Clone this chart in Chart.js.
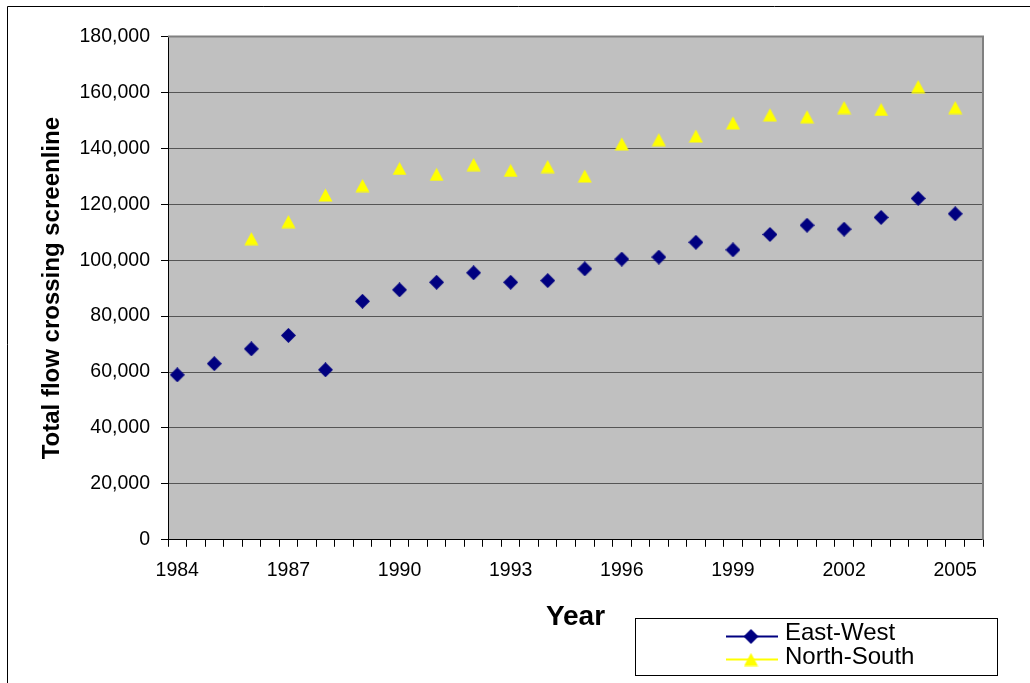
<!DOCTYPE html>
<html>
<head>
<meta charset="utf-8">
<title>Total flow crossing screenline</title>
<script src="https://cdn.jsdelivr.net/npm/chart.js@4/dist/chart.umd.min.js"></script>
<style>
  html, body { margin: 0; padding: 0; background: #ffffff; }
  #wrap { width: 1030px; height: 683px; }
</style>
</head>
<body>
<div id="wrap"><canvas id="flow" width="1030" height="683"></canvas></div>
<script>
// Survey years
const years = [1984, 1985, 1986, 1987, 1988, 1989, 1990, 1991, 1992, 1993, 1994,
               1995, 1996, 1997, 1998, 1999, 2000, 2001, 2002, 2003, 2004, 2005];

// Total flow crossing the screenline, per direction
const eastWest = [59000, 63000, 68300, 73100, 60800, 85300, 89400, 92100, 95500, 92100, 92700,
                  96900, 100400, 101100, 106400, 103700, 109200, 112500, 111100, 115300, 122100, 116600];
const northSouth = [null, null, 107700, 113800, 123300, 126700, 132800, 130700, 134200, 132100, 133500,
                    130100, 141600, 143100, 144400, 149100, 152000, 151300, 154600, 153900, 162100, 154600];

// Axis labelling
const yearLabels = [1984, 1987, 1990, 1993, 1996, 1999, 2002, 2005];
const flowTicks = [0, 20000, 40000, 60000, 80000, 100000, 120000, 140000, 160000, 180000];

const NAVY = '#000080';
const YELLOW = '#FFFF00';
const FONT = '"Liberation Sans", Arial, sans-serif';

// Marker images (diamond and triangle), centred on the value
function makeDiamond(color) {
  const c = document.createElement('canvas');
  c.width = 15; c.height = 15;
  const g = c.getContext('2d');
  g.fillStyle = color;
  g.beginPath();
  g.moveTo(7.5, 0); g.lineTo(15, 7.5); g.lineTo(7.5, 15); g.lineTo(0, 7.5);
  g.closePath(); g.fill();
  return c;
}
function makeTriangle(color) {
  const c = document.createElement('canvas');
  c.width = 15; c.height = 14;
  const g = c.getContext('2d');
  g.fillStyle = color;
  g.beginPath();
  g.moveTo(7.5, 0.5); g.lineTo(14.5, 13.5); g.lineTo(0.5, 13.5);
  g.closePath(); g.fill();
  return c;
}
const diamond = makeDiamond(NAVY);
const triangle = makeTriangle(YELLOW);

const toPoints = vals => years.map((y, i) => ({ x: y, y: vals[i] }));

// Outer frame of the chart object
const outerFrame = {
  id: 'outerFrame',
  beforeDraw(chart) {
    const ctx = chart.ctx;
    ctx.save();
    ctx.strokeStyle = '#000000';
    ctx.lineWidth = 1;
    ctx.beginPath();
    ctx.moveTo(7.5, chart.height);
    ctx.lineTo(7.5, 6.5);
    ctx.lineTo(chart.width, 6.5);
    ctx.stroke();
    ctx.restore();
  }
};

// Grey plot background plus the grey top/right edges of the plot
const plotFrame = {
  id: 'plotFrame',
  beforeDraw(chart) {
    const { ctx, chartArea: a } = chart;
    ctx.save();
    ctx.fillStyle = '#C0C0C0';
    ctx.fillRect(a.left, a.top, a.right - a.left, a.bottom - a.top);
    ctx.restore();
  },
  beforeDatasetsDraw(chart) {
    const { ctx, chartArea: a } = chart;
    ctx.save();
    ctx.strokeStyle = '#808080';
    ctx.lineWidth = 2;
    ctx.beginPath();
    ctx.moveTo(a.left, a.top);
    ctx.lineTo(a.right, a.top);
    ctx.lineTo(a.right, a.bottom);
    ctx.stroke();
    ctx.restore();
  }
};

// Boxed legend with line-and-marker samples
const boxLegend = {
  id: 'boxLegend',
  afterDraw(chart) {
    const ctx = chart.ctx;
    const box = { x: 635.5, y: 618.5, w: 362, h: 57 };
    ctx.save();
    ctx.fillStyle = '#ffffff';
    ctx.fillRect(box.x, box.y, box.w, box.h);
    ctx.strokeStyle = '#000000';
    ctx.lineWidth = 1;
    ctx.strokeRect(box.x, box.y, box.w, box.h);
    const rows = [636.5, 659.5];
    const textRows = [633.5, 657];
    chart.data.datasets.forEach((ds, i) => {
      const y = rows[i];
      ctx.strokeStyle = ds.borderColor;
      ctx.lineWidth = 2;
      ctx.beginPath();
      ctx.moveTo(726, y);
      ctx.lineTo(778, y);
      ctx.stroke();
      const img = ds.pointStyle;
      ctx.drawImage(img, 751 - img.width / 2, y - img.height / 2);
      ctx.fillStyle = '#000000';
      ctx.font = '24px ' + FONT;
      ctx.textBaseline = 'middle';
      ctx.textAlign = 'left';
      ctx.fillText(ds.label, 785, textRows[i]);
    });
    ctx.restore();
  }
};

new Chart(document.getElementById('flow'), {
  type: 'line',
  data: {
    datasets: [
      {
        label: 'East-West',
        data: toPoints(eastWest),
        showLine: false,
        borderColor: NAVY,
        backgroundColor: NAVY,
        pointStyle: diamond
      },
      {
        label: 'North-South',
        data: toPoints(northSouth),
        showLine: false,
        borderColor: YELLOW,
        backgroundColor: YELLOW,
        pointStyle: triangle
      }
    ]
  },
  options: {
    responsive: false,
    animation: false,
    events: [],
    devicePixelRatio: 1,
    layout: { padding: { top: 36.5, right: 47, left: 0, bottom: 0 } },
    plugins: {
      legend: { display: false },
      tooltip: { enabled: false }
    },
    scales: {
      x: {
        type: 'linear',
        min: 1983.75,
        max: 2005.75,
        afterBuildTicks(scale) {
          const t = [];
          for (let k = 0; k <= 88; k++) t.push({ value: 1983.75 + k * 0.25 });
          scale.ticks = t;
        },
        afterFit(scale) { scale.height = 143.2; },
        border: { color: '#000000', width: 1 },
        grid: {
          drawOnChartArea: false,
          tickLength: 7,
          tickWidth: 1,
          tickColor(ctx) {
            const v = ctx.tick ? ctx.tick.value : 0;
            const k = Math.round((v - 1983.75) / 0.25);
            return k % 2 === 0 ? '#000000' : 'rgba(0,0,0,0)';
          }
        },
        ticks: {
          autoSkip: false,
          maxRotation: 0,
          padding: 12,
          color: '#000000',
          font: { family: FONT, size: 19.5 },
          callback(value) {
            const v = Math.round(value * 100) / 100;
            return yearLabels.includes(v) ? String(v) : '';
          }
        },
        title: {
          display: true,
          text: 'Year',
          color: '#000000',
          font: { family: FONT, size: 28, weight: 'bold' },
          padding: { top: 0, bottom: 49 }
        }
      },
      y: {
        min: 0,
        max: 180000,
        afterBuildTicks(scale) {
          scale.ticks = flowTicks.map(v => ({ value: v }));
        },
        afterFit(scale) { scale.width = 168; },
        border: { color: '#000000', width: 1 },
        grid: {
          color: '#555555',
          lineWidth: 1,
          tickLength: 7,
          tickColor: '#000000'
        },
        ticks: {
          padding: 11,
          color: '#000000',
          font: { family: FONT, size: 19.5 },
          callback: v => Number(v).toLocaleString('en-US')
        },
        title: {
          display: true,
          text: 'Total flow crossing screenline',
          color: '#000000',
          font: { family: FONT, size: 24, weight: 'bold' },
          padding: { top: 37.5, bottom: 0 }
        }
      }
    }
  },
  plugins: [outerFrame, plotFrame, boxLegend]
});
</script>
</body>
</html>
